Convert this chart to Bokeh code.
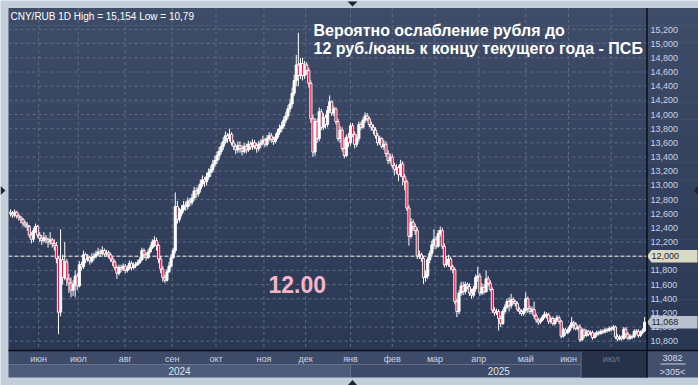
import math
from bokeh.plotting import figure
from bokeh.models import Range1d, ColumnDataSource
from bokeh.core.properties import value
from bokeh.embed import file_html
from bokeh.resources import INLINE

# ---------------- data ----------------
symbol = "CNY/RUB"
timeframe = "1D"
title_lines = ["Вероятно ослабление рубля до",
               "12 руб./юань к концу текущего года - ПСБ"]
target_value = 12.0
target_label = "12.00"
total_bars = 3082

first_open = 12.62
closes = [
    12.60, 12.58, 12.62, 12.57, 12.55, 12.52, 12.47, 12.44, 12.42, 12.30,
    12.24, 12.36, 12.42, 12.30, 12.25, 12.22, 12.26, 12.24, 12.20, 12.23,
    12.18, 12.15, 11.97, 11.21, 11.95, 11.70, 11.92, 11.68, 11.62, 11.52,
    11.60, 11.72, 11.58, 11.88, 11.85, 12.02, 11.95, 11.98, 11.93, 11.98,
    12.00, 12.03, 12.06, 12.04, 12.08, 12.03, 12.05, 12.02, 11.96, 11.92,
    11.84, 11.76, 11.84, 11.82, 11.86, 11.80, 11.83, 11.90, 11.84, 11.87,
    11.88, 11.91, 11.95, 12.08, 12.02, 11.98, 12.06, 12.12, 12.20, 12.22,
    12.15, 11.96, 11.82, 11.70, 11.66, 11.78, 11.86, 11.98, 12.08, 12.70,
    12.52, 12.60, 12.66, 12.72, 12.70, 12.78, 12.76, 12.82, 12.92, 12.88,
    12.95, 13.02, 13.08, 13.05, 13.12, 13.18, 13.22, 13.30, 13.35, 13.42,
    13.48, 13.55, 13.62, 13.70, 13.66, 13.72, 13.60, 13.55, 13.50, 13.56,
    13.52, 13.48, 13.55, 13.50, 13.58, 13.54, 13.60, 13.56, 13.52, 13.58,
    13.60, 13.64, 13.58, 13.66, 13.70, 13.65, 13.62, 13.68, 13.75, 13.80,
    13.84, 13.92, 13.98, 14.08, 14.15, 14.30, 14.48, 14.70, 14.55, 14.72,
    14.55, 14.70, 14.62, 14.44, 13.94, 13.47, 13.90, 13.66, 14.04, 13.82,
    13.96, 13.86, 14.06, 14.18, 14.02, 14.08, 13.90, 13.66, 13.78, 13.52,
    13.42, 13.68, 13.60, 13.84, 13.72, 13.58, 13.66, 13.86, 13.82, 13.92,
    13.98, 13.94, 13.86, 13.82, 13.78, 13.70, 13.60, 13.66, 13.55, 13.58,
    13.45, 13.35, 13.40, 13.28, 13.22, 13.25, 13.15, 13.30, 13.12, 13.05,
    12.68, 12.28, 12.48, 12.42, 12.36, 12.00, 12.02, 11.97, 11.70, 11.72,
    11.95, 12.04, 12.16, 12.24, 12.14, 12.32, 12.36, 12.14, 11.88, 11.92,
    11.96, 11.85, 11.81, 11.36, 11.22, 11.48, 11.58, 11.50, 11.60, 11.57,
    11.48, 11.45, 11.54, 11.70, 11.72, 11.48, 11.56, 11.50, 11.68, 11.62,
    11.53, 11.24, 11.20, 11.22, 11.12, 11.05, 11.22, 11.28, 11.36, 11.30,
    11.39, 11.36, 11.33, 11.25, 11.22, 11.19, 11.23, 11.40, 11.26, 11.22,
    11.25, 11.16, 11.10, 11.07, 11.10, 11.14, 11.18, 11.17, 11.08, 11.12,
    11.05, 11.10, 11.13, 11.08, 10.87, 10.96, 10.92, 10.95, 11.00, 11.06,
    11.04, 10.98, 11.00, 10.82, 10.96, 10.88, 10.94, 10.90, 10.92, 10.85,
    10.89, 10.92, 10.91, 10.94, 10.93, 10.96, 10.95, 10.98, 10.97, 11.00,
    10.86, 10.83, 10.86, 10.84, 10.97, 10.90, 10.84, 10.87, 10.86, 10.94,
    10.94, 10.88, 10.92, 10.95, 11.068,
]
highs = [
    12.66, 12.64, 12.66, 12.64, 12.60, 12.57, 12.54, 12.50, 12.48, 12.44,
    12.34, 12.40, 12.46, 12.44, 12.34, 12.30, 12.34, 12.30, 12.26, 12.34,
    12.26, 12.24, 12.20, 12.00, 12.38, 12.02, 12.20, 11.96, 11.75, 11.70,
    11.66, 11.80, 11.76, 11.93, 11.92, 12.08, 12.05, 12.03, 12.00, 12.04,
    12.05, 12.08, 12.12, 12.10, 12.14, 12.11, 12.09, 12.08, 12.05, 11.99,
    11.95, 11.87, 11.88, 11.88, 11.90, 11.89, 11.87, 11.94, 11.93, 11.91,
    11.92, 11.95, 11.99, 12.12, 12.11, 12.05, 12.10, 12.16, 12.24, 12.28,
    12.26, 12.18, 12.00, 11.86, 11.74, 11.82, 11.92, 12.03, 12.12, 12.90,
    12.78, 12.68, 12.72, 12.78, 12.77, 12.83, 12.82, 12.88, 12.98, 12.97,
    13.00, 13.08, 13.14, 13.12, 13.18, 13.24, 13.28, 13.36, 13.42, 13.48,
    13.54, 13.60, 13.68, 13.76, 13.74, 13.80, 13.75, 13.64, 13.58, 13.62,
    13.62, 13.57, 13.60, 13.59, 13.63, 13.62, 13.65, 13.64, 13.60, 13.63,
    13.65, 13.70, 13.67, 13.71, 13.75, 13.74, 13.69, 13.73, 13.80, 13.86,
    13.90, 13.97, 14.04, 14.13, 14.22, 14.38, 14.56, 14.84, 15.154, 14.80,
    14.80, 14.76, 14.74, 14.66, 14.48, 14.00, 13.95, 13.94, 14.10, 14.08,
    14.02, 14.00, 14.12, 14.27, 14.20, 14.12, 14.10, 13.94, 13.84, 13.82,
    13.66, 13.72, 13.74, 13.88, 13.88, 13.76, 13.72, 13.90, 13.90, 13.96,
    14.03, 14.02, 13.97, 13.90, 13.86, 13.82, 13.74, 13.70, 13.68, 13.64,
    13.62, 13.50, 13.45, 13.44, 13.32, 13.30, 13.28, 13.36, 13.34, 13.16,
    13.08, 12.72, 12.54, 12.52, 12.46, 12.40, 12.08, 12.05, 12.00, 11.80,
    11.99, 12.08, 12.22, 12.38, 12.28, 12.37, 12.42, 12.40, 12.18, 12.00,
    12.02, 11.99, 11.88, 11.84, 11.40, 11.52, 11.64, 11.64, 11.64, 11.63,
    11.62, 11.54, 11.58, 11.74, 11.85, 11.76, 11.62, 11.60, 11.80, 11.72,
    11.66, 11.56, 11.28, 11.26, 11.25, 11.16, 11.25, 11.32, 11.40, 11.42,
    11.47, 11.42, 11.38, 11.36, 11.28, 11.25, 11.27, 11.49, 11.43, 11.30,
    11.29, 11.36, 11.19, 11.13, 11.13, 11.17, 11.22, 11.21, 11.20, 11.15,
    11.15, 11.13, 11.17, 11.16, 11.10, 10.99, 10.99, 10.98, 11.03, 11.14,
    11.09, 11.07, 11.03, 11.04, 10.99, 10.98, 10.97, 10.96, 10.95, 10.95,
    10.92, 10.95, 10.95, 10.97, 10.97, 10.99, 10.99, 11.01, 11.01, 11.03,
    11.02, 10.90, 10.89, 10.88, 11.00, 11.00, 10.93, 10.90, 10.89, 10.97,
    10.97, 10.97, 10.95, 10.98, 11.14,
]
lows = [
    12.56, 12.54, 12.55, 12.53, 12.50, 12.46, 12.42, 12.40, 12.36, 12.26,
    12.18, 12.20, 12.33, 12.26, 12.20, 12.16, 12.19, 12.18, 12.12, 12.16,
    12.12, 12.08, 11.90, 10.90, 11.15, 11.60, 11.66, 11.58, 11.48, 11.42,
    11.44, 11.42, 11.52, 11.56, 11.80, 11.82, 11.90, 11.92, 11.88, 11.90,
    11.94, 11.97, 12.00, 11.99, 12.01, 11.99, 12.00, 11.97, 11.92, 11.86,
    11.80, 11.68, 11.73, 11.77, 11.79, 11.76, 11.77, 11.81, 11.80, 11.81,
    11.83, 11.86, 11.89, 11.93, 11.97, 11.94, 11.96, 12.04, 12.10, 12.13,
    12.08, 11.90, 11.76, 11.64, 11.62, 11.64, 11.76, 11.84, 11.96, 12.04,
    12.46, 12.48, 12.56, 12.62, 12.64, 12.66, 12.70, 12.72, 12.78, 12.82,
    12.84, 12.90, 12.98, 12.98, 13.00, 13.08, 13.12, 13.18, 13.26, 13.30,
    13.36, 13.44, 13.50, 13.58, 13.60, 13.62, 13.56, 13.50, 13.44, 13.46,
    13.46, 13.42, 13.45, 13.45, 13.47, 13.50, 13.50, 13.51, 13.46, 13.48,
    13.53, 13.56, 13.54, 13.55, 13.62, 13.60, 13.57, 13.59, 13.65, 13.71,
    13.75, 13.80, 13.88, 13.94, 14.03, 14.10, 14.26, 14.40, 14.40, 14.50,
    14.48, 14.50, 14.56, 14.38, 13.88, 13.40, 13.42, 13.60, 13.62, 13.78,
    13.78, 13.80, 13.82, 14.02, 13.98, 13.98, 13.86, 13.62, 13.60, 13.48,
    13.38, 13.40, 13.54, 13.56, 13.68, 13.52, 13.54, 13.62, 13.78, 13.80,
    13.88, 13.90, 13.82, 13.77, 13.72, 13.66, 13.56, 13.57, 13.52, 13.50,
    13.40, 13.30, 13.31, 13.24, 13.14, 13.16, 13.06, 13.12, 13.00, 12.93,
    12.64, 12.15, 12.25, 12.36, 12.30, 11.96, 11.96, 11.92, 11.61, 11.64,
    11.68, 11.90, 12.00, 12.10, 12.10, 12.12, 12.28, 12.10, 11.84, 11.85,
    11.85, 11.80, 11.76, 11.32, 11.14, 11.18, 11.44, 11.45, 11.46, 11.53,
    11.44, 11.40, 11.42, 11.50, 11.64, 11.44, 11.45, 11.46, 11.48, 11.58,
    11.50, 11.20, 11.16, 11.17, 10.95, 11.00, 11.03, 11.18, 11.26, 11.22,
    11.26, 11.32, 11.29, 11.22, 11.18, 11.16, 11.16, 11.20, 11.20, 11.18,
    11.18, 11.12, 11.06, 11.03, 11.04, 11.08, 11.12, 11.12, 11.04, 11.05,
    11.02, 11.02, 11.07, 11.04, 10.84, 10.85, 10.88, 10.90, 10.92, 10.98,
    10.96, 10.95, 10.95, 10.79, 10.80, 10.84, 10.86, 10.87, 10.88, 10.82,
    10.84, 10.86, 10.88, 10.89, 10.90, 10.91, 10.92, 10.93, 10.94, 10.95,
    10.83, 10.80, 10.81, 10.81, 10.82, 10.84, 10.82, 10.82, 10.83, 10.84,
    10.89, 10.85, 10.86, 10.90, 10.93,
]
# continuous FX session: each bar opens at the previous close
opens = [first_open] + closes[:-1]

y_ticks = [10.8, 11.0, 11.2, 11.4, 11.6, 11.8, 12.0, 12.2, 12.4, 12.6, 12.8,
           13.0, 13.2, 13.4, 13.6, 13.8, 14.0, 14.2, 14.4, 14.6, 14.8, 15.0, 15.2]
month_labels = ["июн", "июл", "авг", "сен", "окт", "ноя", "дек",
                "янв", "фев", "мар", "апр", "май", "июн", "июл"]
month_start_bar = [13.5, 32.5, 55, 77.5, 98.5, 121.5, 141.5,
                   163, 183, 203.5, 224.5, 247, 267.5, 288]
year_labels = ["2024", "2025"]
year_start_bar = [None, 163]

# ---------------- layout constants ----------------
W, H = 698, 385
BAR_PX = 2.086          # px per bar
X0_PX = 10.0            # px of bar 0
PX_PER_UNIT = 70.84     # px per 1.0 rouble
REF_PX = 340.7          # px of 10.8
REF_VAL = 10.8
LEFT, TOP = 8, 7.5
DATA_RIGHT, DATA_BOTTOM = 646.5, 350.0
BOTTOM = 377.0


def bar_of_px(px):
    return (px - X0_PX) / BAR_PX


x_range = Range1d(bar_of_px(0), bar_of_px(W))
y_range = Range1d(REF_VAL - (H - REF_PX) / PX_PER_UNIT, REF_VAL + REF_PX / PX_PER_UNIT)

p = figure(width=W, height=H, x_range=x_range, y_range=y_range,
           x_axis_type=None, y_axis_type=None, toolbar_location=None,
           output_backend="svg", min_border=0)
p.min_border_left = p.min_border_right = p.min_border_top = p.min_border_bottom = 0
p.outline_line_color = None
p.background_fill_color = "#c3cedb"
p.border_fill_color = "#c3cedb"
p.extra_x_ranges = {"px": Range1d(0, W)}
p.extra_y_ranges = {"py": Range1d(H, 0)}

FONT = value("Liberation Sans")

# gradient background (plot area + right price panel)
N = 40
top_c, bot_c = (63, 76, 104), (43, 56, 85)
band_top, band_bot, band_col = [], [], []
for k in range(N):
    t = k / (N - 1)
    band_top.append(TOP + k * (DATA_BOTTOM - TOP) / N)
    band_bot.append(TOP + (k + 1) * (DATA_BOTTOM - TOP) / N + 0.5)
    col = tuple(int(round(a + (b - a) * t)) for a, b in zip(top_c, bot_c))
    band_col.append("#%02x%02x%02x" % col)
p.quad(left=[LEFT] * N, right=[W] * N, top=band_top, bottom=band_bot,
       fill_color=band_col, line_color=None, x_range_name="px", y_range_name="py")

# grid
GRID = "#5d6b86"
p.segment(x0=[LEFT] * len(y_ticks), x1=[DATA_RIGHT - 1] * len(y_ticks), y0=y_ticks, y1=y_ticks,
          line_color=GRID, line_dash="3 3", line_width=1, x_range_name="px")
p.segment(x0=month_start_bar, x1=month_start_bar, y0=[TOP] * len(month_start_bar),
          y1=[DATA_BOTTOM] * len(month_start_bar),
          line_color=GRID, line_dash="3 3", line_width=1, y_range_name="py")

# target line
p.segment(x0=[LEFT], x1=[DATA_RIGHT], y0=[target_value], y1=[target_value],
          line_color="#e6e6e6", line_dash="4 2", line_width=1, x_range_name="px")

# candles
xs = list(range(len(closes)))
src = ColumnDataSource(dict(
    x=xs, open=opens, close=closes, high=highs, low=lows,
    top=[max(o, c) for o, c in zip(opens, closes)],
    bottom=[min(o, c) for o, c in zip(opens, closes)],
    fill=["#ffffff" if c >= o else "#e3123f" for o, c in zip(opens, closes)],
))
p.segment(x0="x", x1="x", y0="low", y1="high", source=src, line_color="#ffffff", line_width=1)
p.vbar(x="x", width=1.05, top="top", bottom="bottom", source=src,
       fill_color="fill", line_color="#ffffff", line_width=0.9)

# header
hi_txt = f"{max(highs):.3f}".replace(".", ",")
lo_txt = f"{min(lows):.3f}".rstrip("0").replace(".", ",")
header = f"{symbol} {timeframe} High = {hi_txt} Low = {lo_txt}"
p.text(x=[10], y=[15.5], text=[header], x_range_name="px", y_range_name="py",
       text_font=FONT, text_font_size="10px", text_color="#ffffff",
       text_baseline="middle", text_align="left")

# title
p.text(x=[313, 313], y=[29.5, 47.5], text=title_lines, x_range_name="px", y_range_name="py",
       text_font=FONT, text_font_size="16px", text_font_style="bold",
       text_color="#ffffff", text_baseline="alphabetic", text_align="left")

# target label
p.text(x=[268], y=[284], text=[target_label], x_range_name="px", y_range_name="py",
       text_font=FONT, text_font_size="23px", text_font_style="bold",
       text_color="#f5b5c8", text_baseline="alphabetic", text_align="left")

# right price axis
tick_txt = [f"{v:.3f}".replace(".", ",") for v in y_ticks]
p.text(x=[650] * len(y_ticks), y=y_ticks, text=tick_txt, x_range_name="px",
       text_font=FONT, text_font_size="9px", text_color="#c9d3e6",
       text_baseline="middle", text_align="left")


def tag(v, fill, txt_col):
    h = 6.3 / PX_PER_UNIT
    p.patch(x=[646.5, 651, 697, 697, 651], y=[v, v + h, v + h, v - h, v - h],
            fill_color=fill, line_color=None, x_range_name="px")
    p.text(x=[651], y=[v], text=[f"{v:.3f}".replace(".", ",")], x_range_name="px",
           text_font=FONT, text_font_size="9px", text_color=txt_col,
           text_baseline="middle", text_align="left")


tag(target_value, "#dad9c4", "#1c2233")
tag(closes[-1], "#b9c1ce", "#1c2233")

# bottom time axis panel
p.quad(left=[LEFT], right=[DATA_RIGHT], top=[DATA_BOTTOM], bottom=[364],
       fill_color="#3e4b68", line_color=None, x_range_name="px", y_range_name="py")
p.quad(left=[bar_of_px(LEFT)], right=[year_start_bar[1]], top=[364], bottom=[BOTTOM],
       fill_color="#4c5b79", line_color=None, y_range_name="py")
p.quad(left=[year_start_bar[1]], right=[bar_of_px(DATA_RIGHT)], top=[364], bottom=[BOTTOM],
       fill_color="#3e4b68", line_color=None, y_range_name="py")
p.quad(left=[581], right=[DATA_RIGHT], top=[351], bottom=[BOTTOM],
       fill_color="#27314a", line_color=None, x_range_name="px", y_range_name="py")
p.segment(x0=[580.5], x1=[580.5], y0=[351], y1=[BOTTOM], line_color="#5d6883",
          line_width=1, x_range_name="px", y_range_name="py")

m_cols = ["#c9d3e6"] * (len(month_labels) - 1) + ["#6f7b93"]
p.text(x=month_start_bar, y=[358] * len(month_labels), text=month_labels, y_range_name="py",
       text_font=FONT, text_font_size="9px", text_color=m_cols,
       text_baseline="middle", text_align="center")
year_centers = [(bar_of_px(LEFT) + year_start_bar[1]) / 2,
                (year_start_bar[1] + bar_of_px(DATA_RIGHT)) / 2]
p.text(x=year_centers, y=[370.5, 370.5], text=year_labels, y_range_name="py",
       text_font=FONT, text_font_size="10px", text_color="#dfe5ef",
       text_baseline="middle", text_align="center")

# bottom-right info cell
p.quad(left=[DATA_RIGHT], right=[W], top=[DATA_BOTTOM], bottom=[BOTTOM],
       fill_color="#43506d", line_color=None, x_range_name="px", y_range_name="py")
p.text(x=[672, 672], y=[357, 371], text=[str(total_bars), f">{len(closes)}<"],
       x_range_name="px", y_range_name="py", text_font=FONT, text_font_size="9px",
       text_color="#d6dded", text_baseline="middle", text_align="center")
p.segment(x0=[660], x1=[685], y0=[363.5], y1=[363.5], line_color="#c8d0e0",
          line_width=1, x_range_name="px", y_range_name="py")

# panel borders
p.segment(x0=[LEFT, DATA_RIGHT], x1=[W, DATA_RIGHT], y0=[DATA_BOTTOM, TOP], y1=[DATA_BOTTOM, BOTTOM],
          line_color="#0b0e15", line_width=1.5, x_range_name="px", y_range_name="py")

# frame marker triangles
p.patches(xs=[[347, 357, 352], [347, 357, 352], [0, 0, 5], [698, 698, 693]],
          ys=[[1, 1, 6], [385, 385, 379.5], [185.5, 194.5, 190], [185.5, 194.5, 190]],
          fill_color="#1f2533", line_color=None, x_range_name="px", y_range_name="py")

open("out.html", "w").write(file_html(p, INLINE))
